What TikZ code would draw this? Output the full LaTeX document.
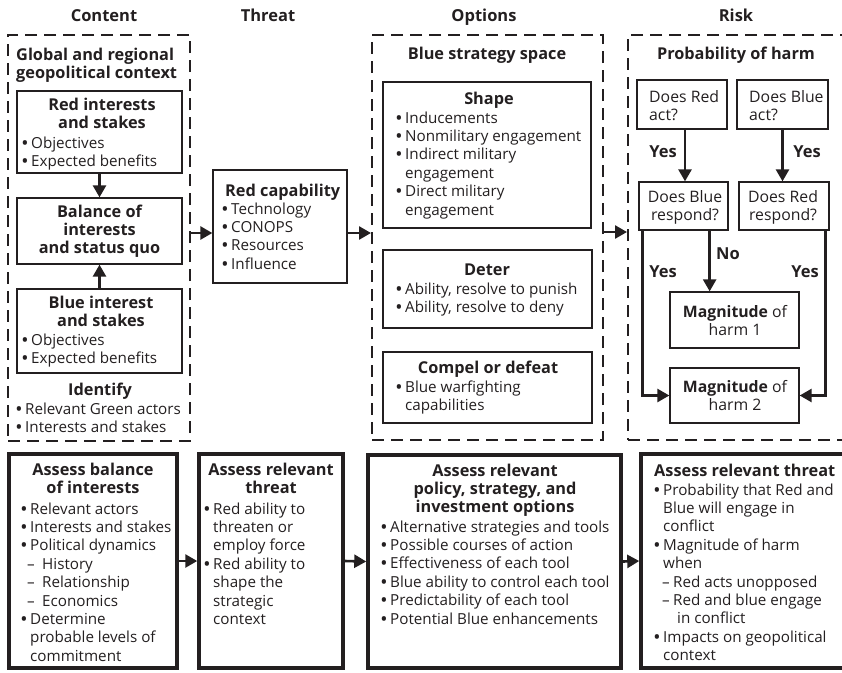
\documentclass[tikz,border=0pt]{standalone}
\usepackage{fontspec}
\setmainfont{Open Sans}
\usetikzlibrary{arrows.meta,calc}
\definecolor{ink}{RGB}{35,31,32}
\newcommand\bl[1]{\par\hangindent=9pt\hangafter=1\noindent\makebox[9pt][l]{\textbf{\textbullet}}#1}
\newcommand\dl[4]{\par\hangindent=#3pt\hangafter=1\noindent\hspace*{#1pt}\makebox[#2pt][l]{–}#4}
\newcommand\bx[6]{\node[#1,minimum width={(#5-#3)*1pt},minimum height={(#6-#4)*1pt}] (#2) at ({(#3+#5)/2},{(#4+#6)/2}) {};}
\newcommand\tl[5]{\node[txt,#4,anchor=base west] (#1) at (#2,#3) {\vtop{\hsize=300pt\parindent=0pt\rightskip=0pt plus 1fil\relax #5}};}
\newcommand\tc[5]{\node[txt,#4,anchor=base] (#1) at (#2,#3) {\vtop{\hsize=300pt\centering #5}};}
\begin{document}
\begin{tikzpicture}[x=1pt,y=-1pt,
  txt/.style={inner sep=0pt,text=ink},
  hdr/.style={font=\bfseries\fontsize{16.5}{19}\selectfont},
  bh/.style={font=\bfseries\fontsize{16.3}{18}\selectfont},
  body/.style={font=\fontsize{15.2}{18.4}\selectfont},
  body2/.style={font=\fontsize{15.8}{18}\selectfont},
  lab/.style={font=\bfseries\fontsize{16.5}{19}\selectfont},
  dbox/.style={draw=ink,line width=2pt,dash pattern=on 12pt off 7pt,inner sep=0pt},
  tbox/.style={draw=ink,line width=1.3pt,inner sep=0pt},
  kbox/.style={draw=ink,line width=3.5pt,inner sep=0pt},
  arr/.style={draw=ink,line width=2.6pt,-{Triangle[length=12pt,width=13pt]}}]
\useasboundingbox (0,0) rectangle (842,672);
\clip (0,0) rectangle (842,672);
% column headers
\tc{hC}{104}{21}{hdr}{Content}
\tc{hT}{268}{21}{hdr}{Threat}
\tc{hO}{484}{21}{hdr}{Options}
\tc{hR}{736}{21}{hdr}{Risk}
% containers
\bx{dbox}{content}{8}{35}{190}{441}
\bx{dbox}{options}{372}{35}{603}{440}
\bx{dbox}{risk}{628}{35}{870}{440}
% content column
\tl{tGlobal}{16}{60}{bh}{Global and regional\newline geopolitical context}
\bx{tbox}{redint}{17}{91}{182}{173}
\tc{tRedint}{102}{110}{bh}{Red interests\\and stakes}
\tl{tRedintB}{22}{148}{body}{\bl{Objectives}\bl{Expected benefits}}
\bx{tbox}{balance}{17}{198}{182}{264}
\tc{tBal}{99.5}{217}{bh}{Balance of\\interests\\and status quo}
\bx{tbox}{blueint}{17}{289}{182}{373}
\tc{tBlueint}{101}{308}{bh}{Blue interest\\and stakes}
\tl{tBlueintB}{22}{345}{body}{\bl{Objectives}\bl{Expected benefits}}
\tc{tIdent}{100}{395}{bh}{Identify}
\tl{tIdentB}{16}{414}{body}{\bl{Relevant Green actors}\bl{Interests and stakes}}
% threat column
\bx{tbox}{cap}{213}{170}{347}{283}
\tl{tCap}{225}{196}{bh}{Red capability}
\tl{tCapB}{222}{214}{body}{\bl{Technology}\bl{CONOPS}\bl{Resources}\bl{Influence}}
% options column
\tc{tBss}{487}{59}{bh}{Blue strategy space}
\bx{tbox}{shape}{383}{82}{591}{228}
\tc{tShape}{489}{104}{bh}{Shape}
\tl{tShapeB}{396}{123}{body}{\bl{Inducements}\bl{Nonmilitary engagement}\bl{Indirect military\newline engagement}\bl{Direct military\newline engagement}}
\bx{tbox}{deter}{383}{250}{592}{328}
\tc{tDeter}{487}{275}{bh}{Deter}
\tl{tDeterB}{396}{294}{body}{\bl{Ability, resolve to punish}\bl{Ability, resolve to deny}}
\bx{tbox}{compel}{383}{352}{592}{423}
\tc{tCompel}{488}{373}{bh}{Compel or defeat}
\tl{tCompelB}{396}{392}{body}{\bl{Blue warfighting\newline capabilities}}
% risk column
\tc{tProb}{736}{59}{bh}{Probability of harm}
\bx{tbox}{redact}{637}{80}{727}{129}
\tl{tRedact}{649}{102}{body2}{Does Red\newline act?}
\bx{tbox}{blueact}{737}{80}{828}{129}
\tl{tBlueact}{749}{102}{body2}{Does Blue\newline act?}
\bx{tbox}{blueresp}{639}{182}{728}{230}
\tc{tBlueresp}{685}{202}{body2}{Does Blue\\respond?}
\bx{tbox}{redresp}{739}{182}{829}{230}
\tc{tRedresp}{783}{202}{body2}{Does Red\\respond?}
\bx{tbox}{mag1}{670}{292}{799}{348}
\tc{tMag1}{735}{317}{body2}{\textbf{Magnitude} of\\harm 1}
\bx{tbox}{mag2}{670}{368}{799}{423}
\tc{tMag2}{735}{392}{body2}{\textbf{Magnitude} of\\harm 2}
\tc{lY1}{663}{157}{lab}{Yes}
\tc{lY2}{807}{157}{lab}{Yes}
\tc{lNo}{728}{259}{lab}{No}
\tc{lY3}{663}{277}{lab}{Yes}
\tc{lY4}{805}{277}{lab}{Yes}
% bottom row
\bx{kbox}{A}{9}{454}{177}{668}
\tc{tA}{93}{475}{bh}{Assess balance\\of interests}
\tl{tAB}{21}{514}{body}{\bl{Relevant actors}\bl{Interests and stakes}\bl{Political dynamics}\dl{6}{15}{21}{History}\dl{6}{15}{21}{Relationship}\dl{6}{15}{21}{Economics}\bl{Determine\newline probable levels of\newline commitment}}
\bx{kbox}{B}{199}{454}{343}{668}
\tc{tB}{271}{475}{bh}{Assess relevant\\threat}
\tl{tBB}{204}{514}{body}{\bl{Red ability to\newline threaten or\newline employ force}\bl{Red ability to\newline shape the\newline strategic\newline context}}
\bx{kbox}{C}{368}{455}{621}{668}
\tc{tC}{495}{476}{bh}{Assess relevant\\policy, strategy, and\\investment options}
\tl{tCB}{381}{532}{body}{\bl{Alternative strategies and tools}\bl{Possible courses of action}\bl{Effectiveness of each tool}\bl{Blue ability to control each tool}\bl{Predictability of each tool}\bl{Potential Blue enhancements}}
\bx{kbox}{D}{641}{454}{870}{668}
\tl{tD}{654}{476}{bh}{Assess relevant threat}
\tl{tDB}{654}{495}{body}{\bl{Probability that Red and\newline Blue will engage in\newline conflict}\bl{Magnitude of harm\newline when}\dl{8}{11}{23}{Red acts unopposed}\dl{8}{11}{23}{Red and blue engage\newline in conflict}\bl{Impacts on geopolitical\newline context}}
% connectors
\draw[arr] (redint.south) -- (balance.north);
\draw[arr] (blueint.north) -- (balance.south);
\coordinate (c1) at (190,233);
\draw[arr] (c1) -- (c1 -| cap.west);
\draw[arr] (cap.east |- c1) -- (options.west |- c1);
\coordinate (c2) at (603,232);
\draw[arr] (c2) -- (risk.west |- c2);
\draw[arr] ([xshift=3pt]redact.south) -- ([xshift=3pt]redact.south |- blueresp.north);
\draw[arr] (blueact.south) -- (blueact.south |- redresp.north);
\draw[arr] ([xshift=4pt]blueresp.south west) |- (mag2.west);
\draw[arr] ([xshift=-19pt]blueresp.south east) -- ([xshift=-19pt]blueresp.south east |- mag1.north);
\draw[arr] ([xshift=-4pt]redresp.south east) |- (mag2.east);
\draw[arr] (A.east) -- (B.west);
\draw[arr] (B.east) -- (C.west);
\draw[arr] (C.east) -- (D.west);
\end{tikzpicture}
\end{document}
